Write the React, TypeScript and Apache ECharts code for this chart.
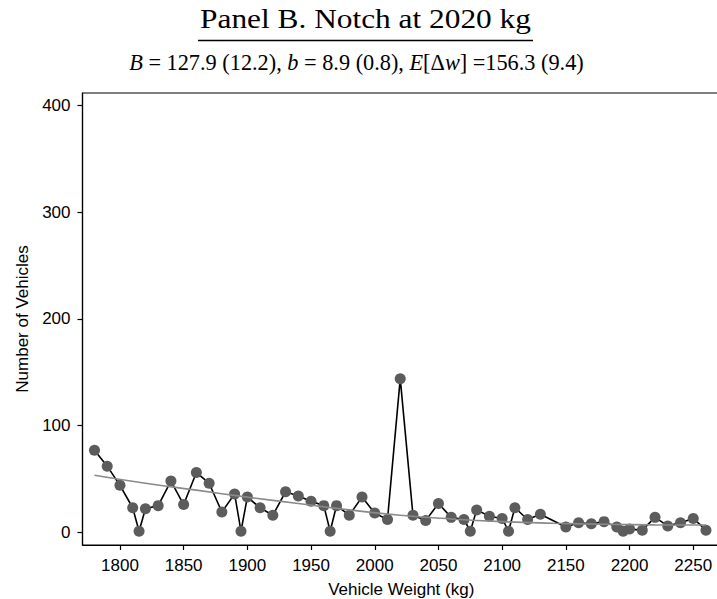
import React, { useEffect, useRef } from "react";
import * as echarts from "echarts";

const weights = [
  1780, 1790, 1800, 1810, 1815, 1820, 1830, 1840, 1850, 1860, 1870, 1880, 1890, 1895,
  1900, 1910, 1920, 1930, 1940, 1950, 1960, 1965, 1970, 1980, 1990, 2000, 2010, 2020,
  2030, 2040, 2050, 2060, 2070, 2075, 2080, 2090, 2100, 2105, 2110, 2120, 2130, 2150,
  2160, 2170, 2180, 2190, 2195, 2200, 2210, 2220, 2230, 2240, 2250, 2260,
];
const counts = [
  77, 62, 44, 23, 1, 22, 25, 48, 26, 56, 46, 19, 36, 1,
  33, 23, 16, 38, 34, 29, 25, 1, 25, 16, 33, 18, 12, 144,
  16, 11, 27, 14, 12, 1, 21, 15, 13, 1, 23, 12, 17, 5,
  9, 8, 10, 5, 1, 3, 2, 14, 6, 9, 13, 2,
];
const fitWeights = [1780, 1820, 1860, 1900, 1940, 1980, 2020, 2060, 2100, 2140, 2180, 2220, 2260];
const fitCounts = [53.5, 46, 39.5, 33, 27, 21, 16, 12.5, 10, 8.5, 7.5, 7, 6.8];
const xTicks = [1800, 1850, 1900, 1950, 2000, 2050, 2100, 2150, 2200, 2250];
const yTicks = [0, 100, 200, 300, 400];

const W = 717;
const H = 599;
const sans = "'Liberation Sans', Arial, Helvetica, sans-serif";
const serif = "'Liberation Serif', 'Times New Roman', serif";

export default function App() {
  const ref = useRef<HTMLDivElement>(null);
  useEffect(() => {
    if (!ref.current) return;
    const chart = echarts.init(ref.current, null, { renderer: "svg", width: W, height: H });
    const option = {
      animation: false,
      backgroundColor: "#ffffff",
      grid: {
        left: 82.5,
        top: 93,
        right: -3,
        bottom: 54,
        outerBoundsMode: "none",
        containLabel: false,
        show: true,
        borderColor: "#000",
        borderWidth: 1.2,
        backgroundColor: "transparent",
      },
      xAxis: {
        type: "value",
        min: 1770.6,
        max: 2271.0,
        name: "Vehicle Weight (kg)",
        nameLocation: "middle",
        nameGap: 36,
        nameTextStyle: { fontFamily: sans, fontSize: 17, color: "#000" },
        axisLine: { show: true, onZero: false, lineStyle: { color: "#000", width: 1.2 } },
        axisTick: { show: true, length: 5, customValues: xTicks, lineStyle: { color: "#000", width: 1.2 } },
        axisLabel: {
          customValues: xTicks,
          margin: 12,
          fontFamily: sans,
          fontSize: 17,
          color: "#000",
          formatter: (v: number) => String(v),
        },
        splitLine: { show: false },
      },
      yAxis: {
        type: "value",
        min: -11.9,
        max: 411.7,
        name: "Number of Vehicles",
        nameLocation: "middle",
        nameRotate: 90,
        nameGap: 52,
        nameTextStyle: { fontFamily: sans, fontSize: 17, color: "#000" },
        axisLine: { show: true, onZero: false, lineStyle: { color: "#000", width: 1.2 } },
        axisTick: { show: true, length: 5, customValues: yTicks, lineStyle: { color: "#000", width: 1.2 } },
        axisLabel: {
          customValues: yTicks,
          margin: 12,
          fontFamily: sans,
          fontSize: 17,
          color: "#000",
          formatter: (v: number) => String(v),
        },
        splitLine: { show: false },
      },
      series: [
        {
          type: "line",
          data: weights.map((w, i) => [w, counts[i]]),
          symbol: "circle",
          symbolSize: 11,
          showAllSymbol: true,
          itemStyle: { color: "#5c5c5c" },
          lineStyle: { color: "#000", width: 1.6 },
          z: 2,
        },
        {
          type: "line",
          data: fitWeights.map((w, i) => [w, fitCounts[i]]),
          showSymbol: false,
          smooth: true,
          lineStyle: { color: "#8a8a8a", width: 1.6 },
          z: 3,
        },
      ],
      graphic: [
        {
          type: "text",
          x: 365.5,
          y: 19,
          scaleX: 1.12,
          style: {
            text: "Panel B. Notch at 2020 kg",
            x: 0,
            y: 0,
            align: "center",
            verticalAlign: "middle",
            fontFamily: serif,
            fontSize: 28,
            fill: "#000",
          },
        },
        {
          type: "line",
          shape: { x1: 198, y1: 40.5, x2: 533, y2: 40.5 },
          style: { stroke: "#000", lineWidth: 1.3 },
        },
        {
          type: "text",
          x: 356.5,
          y: 62,
          style: {
            text: "{i|B} = 127.9 (12.2), {i|b} = 8.9 (0.8), {i|E}[Δ{i|w}] =156.3 (9.4)",
            x: 0,
            y: 0,
            align: "center",
            verticalAlign: "middle",
            fontFamily: serif,
            fontSize: 22.3,
            fill: "#000",
            rich: {
              i: { fontFamily: serif, fontSize: 22.3, fontStyle: "italic", fill: "#000" },
            },
          },
        },
      ],
    };
    chart.setOption(option as any);
    return () => chart.dispose();
  }, []);
  return <div ref={ref} style={{ width: W, height: H, position: "absolute", left: 0, top: 0 }} />;
}
